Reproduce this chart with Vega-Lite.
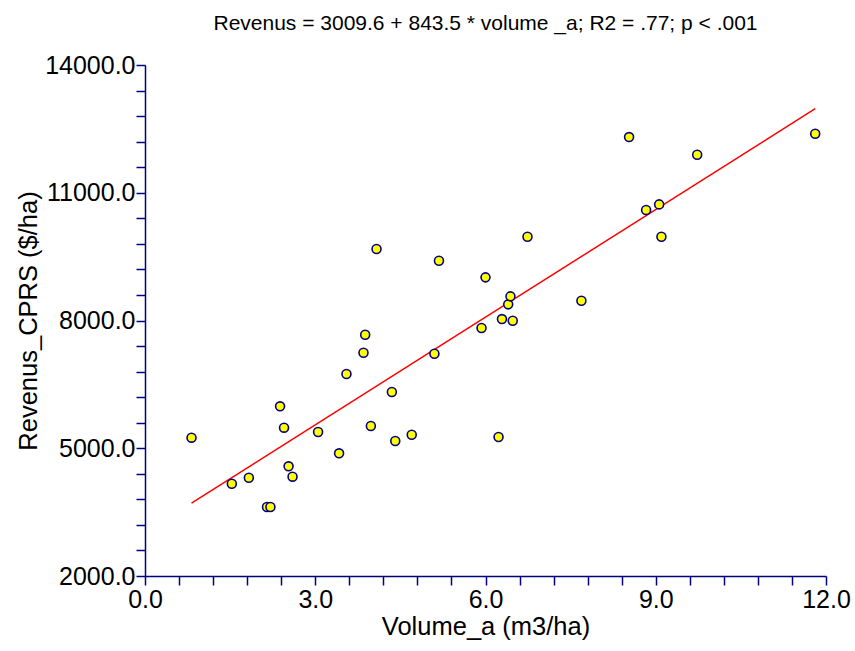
{
  "$schema": "https://vega.github.io/schema/vega-lite/v6.json",
  "width": 681,
  "height": 511,
  "autosize": {"type": "none"},
  "padding": {"left": 145, "top": 65, "right": 29, "bottom": 75},
  "background": "white",
  "title": {
    "text": "Revenus = 3009.6 + 843.5 * volume _a; R2 = .77; p < .001",
    "font": "Liberation Sans",
    "fontSize": 21,
    "fontWeight": "normal",
    "color": "black",
    "anchor": "middle",
    "offset": 19
  },
  "config": {
    "view": {"stroke": null},
    "axis": {
      "domainColor": "#000080",
      "domainWidth": 1.5,
      "tickColor": "#000080",
      "tickWidth": 1.5,
      "tickSize": 9,
      "grid": false,
      "labelFont": "Liberation Sans",
      "labelFontSize": 25,
      "labelColor": "black",
      "labelFlush": false,
      "titleFont": "Liberation Sans",
      "titleFontSize": 25.5,
      "titleFontWeight": "normal",
      "titleColor": "black"
    }
  },
  "data": {
    "values": [
      {"volume": 0.82, "revenus": 5248},
      {"volume": 1.53, "revenus": 4167},
      {"volume": 1.83, "revenus": 4308},
      {"volume": 2.15, "revenus": 3620},
      {"volume": 2.21, "revenus": 3620},
      {"volume": 2.38, "revenus": 5985},
      {"volume": 2.45, "revenus": 5483},
      {"volume": 2.53, "revenus": 4575},
      {"volume": 2.60, "revenus": 4332},
      {"volume": 3.05, "revenus": 5381},
      {"volume": 3.42, "revenus": 4881},
      {"volume": 3.55, "revenus": 6743},
      {"volume": 3.85, "revenus": 7243},
      {"volume": 3.88, "revenus": 7666},
      {"volume": 3.98, "revenus": 5522},
      {"volume": 4.08, "revenus": 9678},
      {"volume": 4.35, "revenus": 6320},
      {"volume": 4.41, "revenus": 5170},
      {"volume": 4.70, "revenus": 5318},
      {"volume": 5.10, "revenus": 7220},
      {"volume": 5.18, "revenus": 9403},
      {"volume": 5.93, "revenus": 7823},
      {"volume": 6.00, "revenus": 9013},
      {"volume": 6.23, "revenus": 5264},
      {"volume": 6.29, "revenus": 8034},
      {"volume": 6.40, "revenus": 8379},
      {"volume": 6.44, "revenus": 8567},
      {"volume": 6.48, "revenus": 7995},
      {"volume": 6.74, "revenus": 9967},
      {"volume": 7.69, "revenus": 8464},
      {"volume": 8.53, "revenus": 12308},
      {"volume": 8.83, "revenus": 10594},
      {"volume": 9.06, "revenus": 10727},
      {"volume": 9.10, "revenus": 9967},
      {"volume": 9.73, "revenus": 11893},
      {"volume": 11.81, "revenus": 12385}
    ]
  },
  "encoding": {
    "x": {
      "field": "volume",
      "type": "quantitative",
      "scale": {"domain": [0, 12], "nice": false, "zero": false},
      "axis": {
        "title": "Volume_a (m3/ha)",
        "values": [0, 0.6, 1.2, 1.8, 2.4, 3, 3.6, 4.2, 4.8, 5.4, 6, 6.6, 7.2, 7.8, 8.4, 9, 9.6, 10.2, 10.8, 11.4, 12],
        "labelExpr": "abs(datum.value / 3 - round(datum.value / 3)) < 0.001 ? format(datum.value, '.1f') : ''",
        "labelPadding": 2,
        "titlePadding": 2
      }
    },
    "y": {
      "field": "revenus",
      "type": "quantitative",
      "scale": {"domain": [2000, 14000], "nice": false, "zero": false},
      "axis": {
        "title": "Revenus_CPRS ($/ha)",
        "values": [2000, 2600, 3200, 3800, 4400, 5000, 5600, 6200, 6800, 7400, 8000, 8600, 9200, 9800, 10400, 11000, 11600, 12200, 12800, 13400, 14000],
        "labelExpr": "(datum.value - 2000) % 3000 == 0 ? format(datum.value, '.1f') : ''",
        "labelPadding": 1,
        "titlePadding": 3
      }
    }
  },
  "layer": [
    {
      "transform": [{"regression": "revenus", "on": "volume"}],
      "mark": {"type": "line", "color": "#ff0000", "strokeWidth": 1.5}
    },
    {
      "mark": {"type": "point", "shape": "circle", "filled": true, "fill": "#ffff00", "stroke": "#000080", "strokeWidth": 1.6, "size": 80, "opacity": 1}
    }
  ]
}
